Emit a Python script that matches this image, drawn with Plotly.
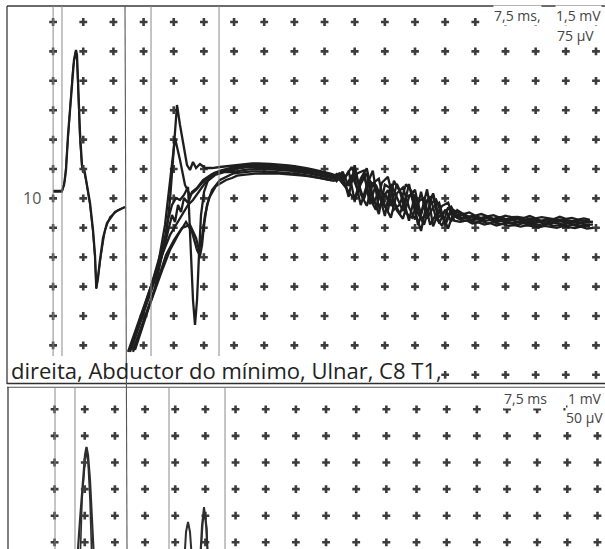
import plotly.graph_objects as go

# ---------------- display scales (from the chart labels) ----------------
SWEEP_MS_PER_DIV = 7.5
TOP_MV_PER_DIV, TOP_UV_PER_DIV = 1.5, 75
BOT_MV_PER_DIV, BOT_UV_PER_DIV = 1.0, 50

# ---------------- TOP PANEL: M response (mV) ----------------
m1_t = [0.0, 2.21, 2.71, 3.21, 3.71, 4.45, 5.20, 5.70, 5.94, 6.19, 6.69, 7.19, 7.44, 7.69, 7.94,
        8.43, 9.18, 9.92, 10.42, 10.74, 11.17, 11.66, 12.41, 13.40, 15.39, 17.88]
m1_mv = [0.38, 0.38, 0.68, 1.45, 3.23, 5.28, 7.06, 7.57, 7.32, 6.04, 3.34, 1.70, 1.35, 1.55, 1.24,
         0.68, -0.23, -1.61, -2.89, -4.57, -4.06, -3.14, -2.02, -1.26, -0.69, -0.44]
m2_t = [0.0, 2.21, 2.96, 3.46, 4.20, 4.95, 5.57, 5.94, 6.32, 6.69, 7.19, 7.69, 8.18,
        9.18, 9.92, 10.42, 10.74, 11.17, 11.91, 12.91, 14.15, 16.14, 17.88]
m2_mv = [0.33, 0.33, 0.94, 2.47, 4.77, 6.65, 7.47, 7.06, 5.02, 2.98, 1.55, 1.40, 0.94,
         -0.34, -1.71, -3.04, -4.62, -3.96, -2.89, -1.61, -0.95, -0.59, -0.44]

# ---------------- TOP PANEL: F responses (uV) ----------------
f1_early_t = [19.13, 21.61, 24.10, 26.59, 28.08, 29.07, 30.06, 30.81, 31.56, 32.55, 33.30, 34.05,
              34.79, 35.54, 36.53, 37.78, 39.52, 41.51, 43.50]
f1_early_uv = [-391.8, -310.2, -233.7, -144.4, -93.3, -4.1, 149.0, 238.3, 187.2, 123.5, 85.1, 72.4,
               92.9, 77.5, 87.8, 77.5, 77.5, 80.1, 82.7]
f2_early_t = [19.87, 22.86, 25.34, 27.33, 28.57, 29.57, 30.56, 31.56, 32.55, 33.55, 34.30, 34.79,
              35.29, 35.79, 36.28, 36.78, 37.53, 38.52, 40.02, 42.01, 44.00]
f2_early_uv = [-391.8, -305.1, -228.6, -131.6, -55.1, -16.8, 1.0, -4.1, 8.7, 29.1, -131.6, -259.2,
               -323.0, -259.2, -144.4, -42.3, 16.3, 46.9, 64.8, 72.4, 77.5]
f3_early_t = [19.13, 22.86, 26.09, 27.83, 29.07, 30.31, 31.56, 32.80, 34.05, 35.54, 37.03, 39.02,
              41.51, 44.00]
f3_early_uv = [-386.7, -272.0, -169.9, -67.8, 46.9, 154.1, 98.0, 34.2, 8.7, 21.4, 39.3, 57.1,
               67.3, 72.4]
f4_early_t = [18.63, 21.61, 24.60, 27.08, 29.07, 30.56, 32.06, 33.55, 34.79, 36.04, 37.78, 40.27,
              42.75, 44.50]
f4_early_uv = [-391.8, -305.1, -220.9, -144.4, -93.3, -67.8, -42.3, -16.8, -4.1, 13.8, 39.3, 59.7,
               67.3, 67.3]
f5_early_t = [19.87, 22.86, 25.34, 27.33, 29.07, 31.06, 33.05, 34.54, 35.79, 36.53, 37.03, 37.53,
              38.27, 39.52, 41.51, 44.00]
f5_early_uv = [-386.7, -305.1, -233.7, -177.5, -131.6, -93.3, -60.2, -85.7, -131.6, -146.9, -118.9,
               -67.8, -16.8, 21.4, 46.9, 59.7]
f6_early_t = [20.37, 23.60, 26.09, 28.08, 30.06, 32.06, 34.05, 35.54, 36.28, 37.03, 37.78, 38.77,
              40.51, 43.00, 44.50]
f6_early_uv = [-386.7, -284.7, -208.2, -144.4, -106.1, -75.5, -67.8, -101.0, -131.6, -101.0, -42.3,
               1.0, 31.6, 46.9, 52.0]
f7_early_t = [19.37, 22.36, 25.34, 27.33, 28.57, 29.57, 30.31, 31.06, 31.81, 32.55, 33.55, 34.54,
              35.79, 37.28, 39.52, 42.01, 44.50]
f7_early_uv = [-386.7, -297.6, -208.2, -136.7, -85.7, -42.3, -60.2, -16.8, -34.7, 1.0, -11.7, 16.3,
               26.5, 46.9, 62.2, 69.9, 72.4]

# sample times of the later part (two interleaved sweeps)
t_late = [45.0, 46.5, 48.0, 49.5, 51.0, 52.5, 54.0, 55.5, 57.0, 58.5, 60.0, 61.5, 63.0, 64.5, 66.0,
          67.5, 69.0, 70.5, 72.0, 73.5, 75.0, 76.5, 78.0, 79.5, 81.0, 82.5, 84.0, 85.5, 87.0, 88.5,
          90.0, 91.5, 93.0, 94.5, 96.0, 97.5, 99.0, 100.5, 102.0, 103.5, 105.0, 106.5, 108.0, 109.5,
          111.0, 112.5, 114.0, 115.5, 117.0, 118.5, 120.0, 121.5, 123.0, 124.5, 126.0, 127.5, 129.0,
          130.5, 132.0, 133.5]
t_late_b = [45.75, 47.25, 48.75, 50.25, 51.75, 53.25, 54.75, 56.25, 57.75, 59.25, 60.75, 62.25,
            63.75, 65.25, 66.75, 68.25, 69.75, 71.25, 72.75, 74.25, 75.75, 77.25, 78.75, 80.25,
            81.75, 83.25, 84.75, 86.25, 87.75, 89.25, 90.75, 92.25, 93.75, 95.25, 96.75, 98.25,
            99.75, 101.25, 102.75, 104.25, 105.75, 107.25, 108.75, 110.25, 111.75, 113.25, 114.75,
            116.25, 117.75, 119.25, 120.75, 122.25, 123.75, 125.25, 126.75, 128.25, 129.75, 131.25,
            132.75, 134.25]
f1_late_uv = [84, 86, 88, 89, 89, 89, 88, 87, 86, 84, 82, 80, 77, 74, 71, 67, 63,
              58, 39, 70, -6, 37, 65, -15, 16, -45, 37, 1, -32, 37, -34, -83, -7, 9, -64, -29, -59,
              -30, -40, -36, -44, -40, -46, -43, -49, -44, -48, -47, -50, -45, -51, -48, -50, -53,
              -47, -52, -50, -54, -51, -55]
f2_late_uv = [80, 82, 84, 85, 85, 85, 84, 83, 82, 80, 78, 76, 73, 70, 67, 63, 59,
              44, 68, 32, 54, -17, 33, 71, -26, 13, -19, 37, 2, -57, 10, -39, 23, -71, -32, -61, -28,
              -44, -40, -47, -45, -50, -46, -52, -48, -53, -50, -51, -55, -52, -53, -57, -52, -56,
              -54, -55, -58, -55, -57, -59]
f3_late_uv = [75, 77, 79, 80, 80, 80, 79, 78, 77, 75, 73, 71, 68, 65, 62, 58, 54,
              55, 60, 4, 84, 11, -19, 39, 50, -19, -49, 13, 28, -23, -54, 17, -51, -23, -11, -68, -33,
              -42, -52, -47, -51, -55, -50, -56, -54, -57, -55, -60, -56, -58, -61, -57, -59, -62,
              -58, -62, -60, -63, -61, -62]
f4_late_uv = [70, 72, 74, 75, 75, 75, 74, 73, 72, 70, 68, 66, 63, 60, 57, 54, 50,
              48, 28, 60, 22, 63, 1, -29, 40, 55, -9, -39, 4, 11, -68, -15, 5, -51, -70, -23, -46,
              -52, -48, -56, -53, -58, -55, -61, -57, -60, -63, -59, -62, -64, -60, -65, -62, -63,
              -66, -63, -67, -64, -68, -66]
f5_late_uv = [64, 66, 68, 69, 69, 69, 68, 67, 66, 65, 63, 61, 59, 56, 53, 50, 47,
              62, 48, 16, -2, 51, 77, 5, -40, 35, 25, -31, -52, 3, 22, -53, -37, 13, -48, -32, -21,
              -50, -58, -55, -62, -57, -64, -60, -66, -62, -64, -67, -63, -68, -66, -69, -65, -70,
              -68, -71, -67, -71, -70, -72]
f6_late_uv = [58, 60, 62, 63, 64, 64, 63, 63, 62, 61, 60, 58, 56, 54, 51, 48, 45,
              50, 56, 80, 44, -3, 45, 25, -10, -31, 45, 17, -38, -49, -8, 1, -67, -41, -19, -11, -57,
              -60, -56, -64, -61, -67, -63, -69, -65, -70, -68, -72, -69, -71, -74, -70, -73, -75,
              -71, -74, -76, -72, -77, -75]
f7_late_uv = [78, 80, 82, 82, 83, 83, 82, 81, 80, 78, 76, 74, 71, 68, 65, 61, 57,
              64, 32, 48, 64, 71, -15, 35, -2, 21, -29, -15, 36, 17, -38, -67, -15, -3, -43, -76, -31,
              -40, -49, -45, -52, -48, -51, -55, -50, -56, -53, -54, -58, -55, -57, -60, -56, -59,
              -57, -61, -58, -62, -59, -60]

# ---------------- BOTTOM PANEL ----------------
bm1_t = [5.32, 5.82, 6.32, 7.06, 7.56, 7.93, 8.31, 8.80, 9.30, 9.80, 10.29]
bm1_mv = [0.83, 2.75, 3.84, 5.53, 6.28, 6.58, 6.28, 5.34, 3.84, 2.33, 0.83]
bm2_t = [6.07, 6.82, 7.56, 7.93, 8.31, 8.80, 9.55]
bm2_mv = [0.83, 4.59, 6.01, 6.46, 6.01, 4.59, 0.83]
bf1_t = [31.68, 32.18, 32.68, 33.18, 33.67, 34.17, 34.67]
bf1_uv = [41.5, 116.7, 169.4, 188.2, 169.4, 116.7, 41.5]
bf2_t = [35.66, 36.16, 36.66, 37.16, 37.65, 38.15, 38.65]
bf2_uv = [41.5, 116.7, 182.5, 216.3, 182.5, 116.7, 41.5]
bf3_t = [35.91, 36.41, 36.91, 37.40, 37.90, 38.40]
bf3_uv = [41.5, 135.0, 190.0, 207.0, 175.0, 41.5]

# cursor / marker latencies (ms)
top_markers_ms = [0.0, 2.21, 24.35, 41.26]
bot_markers_ms = [0.1, 5.07, 28.45, 42.38]
split_marker_ms = (17.88, 18.38)

# grid of "+" marks
grid_cols = list(range(0, 19))          # divisions along time
top_rows = list(range(-6, 7))           # divisions, top panel
bot_rows = list(range(3, 9))            # divisions, bottom panel

# ---------------- geometry ----------------
W, H = 605, 549
split = 1 - 386 / H
top_dom = [split, 1.0]
bot_dom = [0.0, split]
ms_per_px = SWEEP_MS_PER_DIV / 30.16
x_top_range = [-53.1 * ms_per_px, (W - 53.1) * ms_per_px]
x_bot_range = [-54.6 * ms_per_px, (W - 54.6) * ms_per_px]
top_div = [-(386 - 198.4) / 29.4, 198.4 / 29.4]
bot_div = [(622.1 - 549) / 26.6, (622.1 - 386) / 26.6]

INK = "#1e1e1e"
fig = go.Figure()

def line(t, v, xa, ya, w=2.0, color=INK):
    fig.add_trace(go.Scatter(x=t, y=v, xaxis=xa, yaxis=ya, mode="lines",
                             line=dict(color=color, width=w), hoverinfo="skip"))

CROSS = dict(symbol="cross", size=6.5, color="#3c3c3c", line=dict(width=0))
gx, gy = [], []
for r in top_rows:
    for c in grid_cols:
        if r == -6 and c <= 12:
            continue
        gx.append(c * SWEEP_MS_PER_DIV)
        gy.append(r * TOP_UV_PER_DIV)
fig.add_trace(go.Scatter(x=gx, y=gy, xaxis="x", yaxis="y2", mode="markers", marker=CROSS,
                         hoverinfo="skip"))
bx, by = [], []
for r in bot_rows:
    for c in grid_cols:
        bx.append(c * SWEEP_MS_PER_DIV)
        by.append(r * BOT_UV_PER_DIV)
fig.add_trace(go.Scatter(x=bx, y=by, xaxis="x2", yaxis="y4", mode="markers", marker=CROSS,
                         hoverinfo="skip"))

# top traces
line(m1_t, m1_mv, "x", "y", 2.3)
line(m2_t, m2_mv, "x", "y", 1.8)
for et, ev, tl, lv in [(f1_early_t, f1_early_uv, t_late, f1_late_uv),
                       (f2_early_t, f2_early_uv, t_late, f2_late_uv),
                       (f3_early_t, f3_early_uv, t_late, f3_late_uv),
                       (f4_early_t, f4_early_uv, t_late_b, f4_late_uv),
                       (f5_early_t, f5_early_uv, t_late, f5_late_uv),
                       (f6_early_t, f6_early_uv, t_late_b, f6_late_uv),
                       (f7_early_t, f7_early_uv, t_late_b, f7_late_uv)]:
    line(et + tl, ev + lv, "x", "y2", 2.3)

# bottom traces
line(bm1_t, bm1_mv, "x2", "y3", 2.2, "#2e2e2e")
line(bm2_t, bm2_mv, "x2", "y3", 1.6, "#2e2e2e")
line(bf1_t, bf1_uv, "x2", "y4", 2.0, "#2e2e2e")
line(bf2_t, bf2_uv, "x2", "y4", 2.0, "#2e2e2e")
line(bf3_t, bf3_uv, "x2", "y4", 1.5, "#2e2e2e")

ax = dict(visible=False, fixedrange=True)
fig.update_layout(
    width=W, height=H, margin=dict(l=0, r=0, t=0, b=0),
    paper_bgcolor="white", plot_bgcolor="rgba(0,0,0,0)", showlegend=False,
    xaxis=dict(ax, domain=[0, 1], range=x_top_range, anchor="y"),
    yaxis=dict(ax, domain=top_dom, range=[d * TOP_MV_PER_DIV for d in top_div], anchor="x"),
    yaxis2=dict(ax, domain=top_dom, range=[d * TOP_UV_PER_DIV for d in top_div],
                overlaying="y", anchor="x"),
    xaxis2=dict(ax, domain=[0, 1], range=x_bot_range, anchor="y3"),
    yaxis3=dict(ax, domain=bot_dom, range=[d * BOT_MV_PER_DIV for d in bot_div], anchor="x2"),
    yaxis4=dict(ax, domain=bot_dom, range=[d * BOT_UV_PER_DIV for d in bot_div],
                overlaying="y3", anchor="x2"),
    font=dict(family="Open Sans, Noto Sans, sans-serif"),
)

def py(p):
    return 1 - p / H

shapes = []
frame = dict(color="#3a3a3a", width=1.3)
shapes.append(dict(type="line", xref="paper", yref="paper", x0=7 / W, x1=1, y0=py(6), y1=py(6), line=frame))
shapes.append(dict(type="line", xref="paper", yref="paper", x0=7 / W, x1=7 / W, y0=py(384), y1=py(6), line=frame))
shapes.append(dict(type="line", xref="paper", yref="paper", x0=7 / W, x1=1, y0=py(383.5), y1=py(383.5),
                   line=dict(color="#2f2f2f", width=1.6)))
shapes.append(dict(type="line", xref="paper", yref="paper", x0=7 / W, x1=1, y0=py(387.2), y1=py(387.2),
                   line=dict(color="#555555", width=1.1)))
shapes.append(dict(type="line", xref="paper", yref="paper", x0=8 / W, x1=8 / W, y0=0, y1=py(387), line=frame))
for m in top_markers_ms:
    shapes.append(dict(type="line", xref="x", yref="paper", x0=m, x1=m, y0=py(356), y1=py(6),
                       line=dict(color="#8a8a8a", width=1)))
for m in bot_markers_ms:
    shapes.append(dict(type="line", xref="x2", yref="paper", x0=m, x1=m, y0=0, y1=py(388),
                       line=dict(color="#8a8a8a", width=1)))
shapes.append(dict(type="line", xref="x", yref="paper", x0=split_marker_ms[0], x1=split_marker_ms[1],
                   y0=py(6), y1=0, line=dict(color="#555555", width=1.1)))
fig.update_layout(shapes=shapes)

ann = []
def label(text, xp, yp, size, color="#444444", xanchor="center", bg="white"):
    ann.append(dict(text=text, xref="paper", yref="paper", x=xp / W, y=py(yp), showarrow=False,
                    xanchor=xanchor, yanchor="middle", font=dict(size=size, color=color),
                    bgcolor=bg, borderpad=0))
label("7,5 ms,", 517, 15, 14)
label("1,5 mV", 578, 15, 14)
label("75 µV", 575, 36, 14)
label("10", 32, 198, 16, "#555555", bg="rgba(0,0,0,0)")
label("direita, Abductor do mínimo, Ulnar, C8 T1,", 10, 370, 22, "#222222", "left", "rgba(0,0,0,0)")
label("7,5 ms", 525, 398, 14)
label("1 mV", 585, 398, 14)
label("50 µV", 604, 417, 14, xanchor="right")
fig.update_layout(annotations=ann)

fig.write_html("out.html")
